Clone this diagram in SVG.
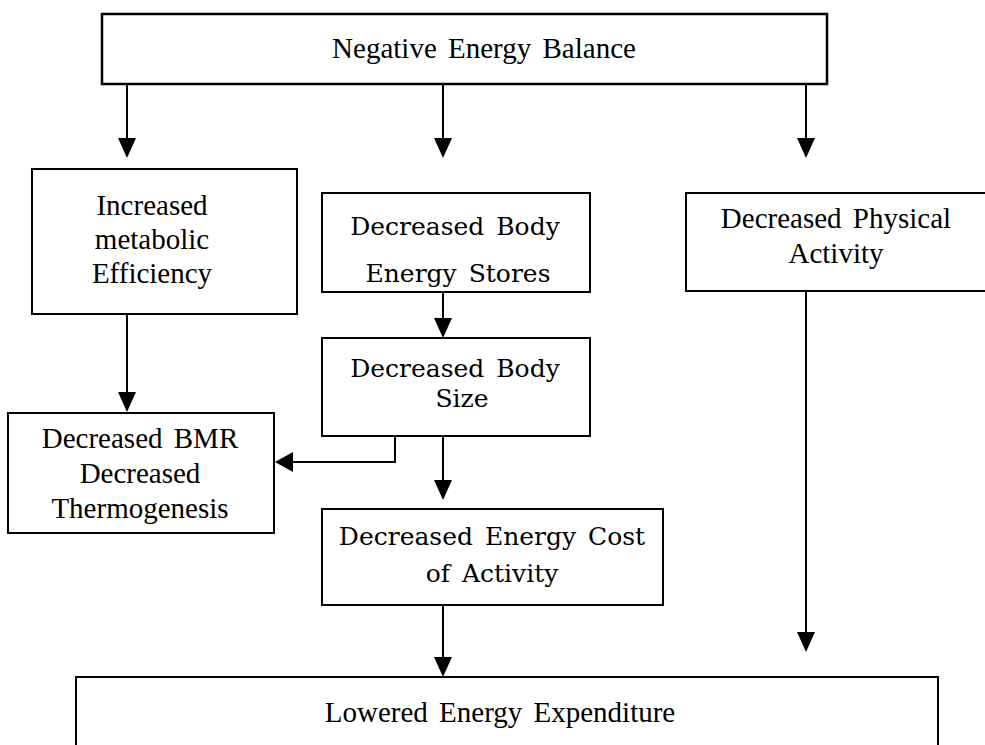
<svg xmlns="http://www.w3.org/2000/svg" width="985" height="745" viewBox="0 0 985 745">
<defs>
<style>
.box{fill:#fff;stroke:#000;stroke-width:2}
.tb{stroke-width:2.5}
.t{font-family:"Liberation Serif","Times New Roman",serif;font-size:29px;fill:#000;text-anchor:middle;word-spacing:4px}
.c{font-family:"DejaVu Serif","Liberation Serif",serif;font-size:25px;fill:#000;text-anchor:middle;word-spacing:4px}
.ln{fill:none;stroke:#000;stroke-width:2}
.ah{fill:#000;stroke:none}
</style>
</defs>
<rect width="985" height="745" fill="#fff"/>
<g id="connectors">
<line class="ln" x1="127" y1="84" x2="127" y2="142"/>
<polygon class="ah" points="118,138 136,138 127,158"/>
<line class="ln" x1="443" y1="84" x2="443" y2="142"/>
<polygon class="ah" points="434,138 452,138 443,158"/>
<line class="ln" x1="806" y1="84" x2="806" y2="142"/>
<polygon class="ah" points="797,138 815,138 806,158"/>
<line class="ln" x1="127" y1="314" x2="127" y2="396"/>
<polygon class="ah" points="118,392 136,392 127,412"/>
<line class="ln" x1="443" y1="292" x2="443" y2="322"/>
<polygon class="ah" points="434,318 452,318 443,338"/>
<polyline class="ln" points="395,436 395,462 290,462"/>
<polygon class="ah" points="293,452 293,472 275,462"/>
<line class="ln" x1="443" y1="436" x2="443" y2="484"/>
<polygon class="ah" points="434,480 452,480 443,500"/>
<line class="ln" x1="443" y1="605" x2="443" y2="660"/>
<polygon class="ah" points="434,657 452,657 443,677"/>
<line class="ln" x1="806" y1="291" x2="806" y2="636"/>
<polygon class="ah" points="797,632 815,632 806,652"/>
</g>
<g id="n-negative">
<rect class="box tb" x="102" y="14" width="725" height="70"/>
<text class="t" x="484" y="58">Negative Energy Balance</text>
</g>
<g id="n-increased">
<rect class="box" x="32" y="169" width="265" height="145"/>
<text class="t" x="152" y="215">Increased</text>
<text class="t" x="152" y="249">metabolic</text>
<text class="t" x="152" y="283">Efficiency</text>
</g>
<g id="n-stores">
<rect class="box" x="322" y="193" width="268" height="99"/>
<text class="c" x="455" y="235">Decreased Body</text>
<text class="c" x="458" y="282">Energy Stores</text>
</g>
<g id="n-physical">
<rect class="box" x="686" y="193" width="310" height="98"/>
<text class="t" x="836" y="228">Decreased Physical</text>
<text class="t" x="836" y="263">Activity</text>
</g>
<g id="n-size">
<rect class="box" x="322" y="338" width="268" height="98"/>
<text class="c" x="455" y="377">Decreased Body</text>
<text class="c" x="462" y="407">Size</text>
</g>
<g id="n-bmr">
<rect class="box" x="8" y="413" width="266" height="120"/>
<text class="t" x="140" y="448">Decreased BMR</text>
<text class="t" x="140" y="483">Decreased</text>
<text class="t" x="140" y="518">Thermogenesis</text>
</g>
<g id="n-cost">
<rect class="box" x="322" y="509" width="341" height="96"/>
<text class="c" x="492" y="545">Decreased Energy Cost</text>
<text class="c" x="492" y="582">of Activity</text>
</g>
<g id="n-lowered">
<rect class="box" x="76" y="677" width="862" height="90"/>
<text class="t" x="500" y="722">Lowered Energy Expenditure</text>
</g>
</svg>
